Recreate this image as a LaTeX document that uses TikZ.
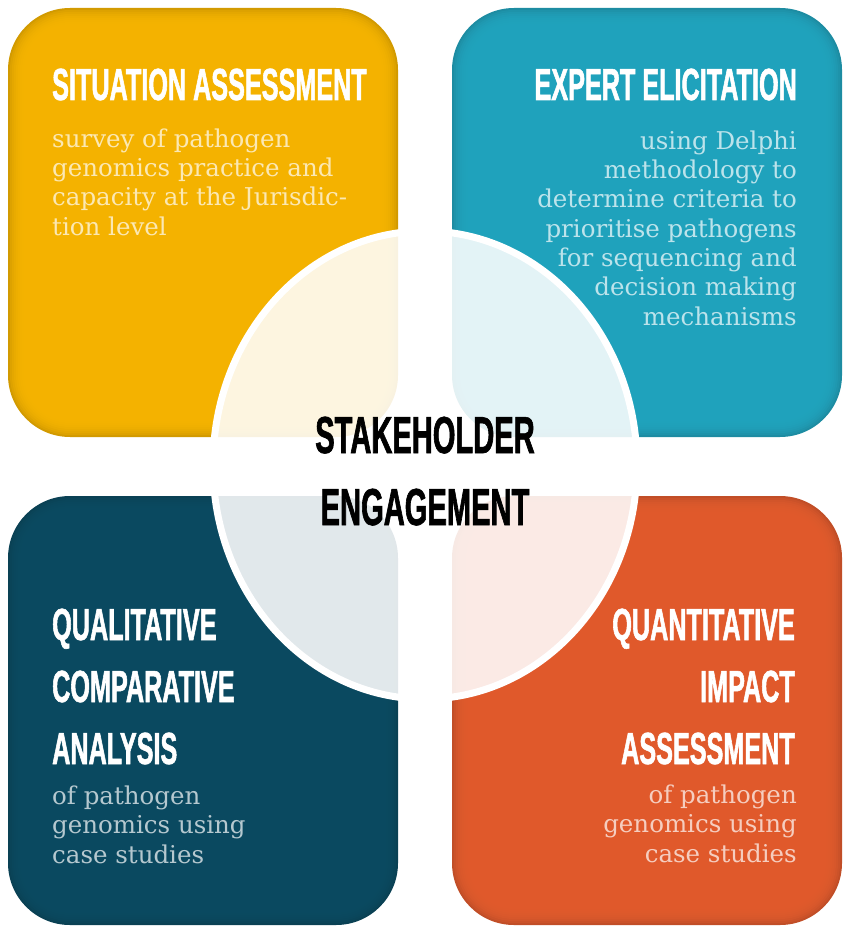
\documentclass[tikz,border=0pt]{standalone}
\usepackage{fontspec}
\newfontfamily\headfont[FakeStretch=0.56,FakeBold=1.2]{Liberation Sans}
\newfontfamily\bodyfont{DejaVu Serif}
\definecolor{sitcol}{HTML}{F7B500}
\definecolor{expcol}{HTML}{22A5BF}
\definecolor{qualcol}{HTML}{0C4C63}
\definecolor{quantcol}{HTML}{E35C2E}
\begin{document}
\begin{tikzpicture}[x=1pt,y=-1pt]
  \tikzstyle{head}=[inner sep=0pt,text=white,font=\headfont\bfseries\fontsize{45}{62}\selectfont]
  \tikzstyle{body}=[inner sep=0pt,text=white,text opacity=0.7,font=\bodyfont\fontsize{24.5}{29.3}\selectfont]
  \useasboundingbox (0,0) rectangle (851,936);
  % four tiles, a bit darker at the rim
  \foreach \name/\xa/\ya/\col in {sit/8/8/sitcol, exp/452/8/expcol, qual/8/496/qualcol, quant/452/496/quantcol}
  {
    \fill[\col!85!black,rounded corners=62pt] (\xa,\ya) rectangle ++(390,429);
    \foreach \k in {1,...,9}
      \fill[\col,opacity=0.3,rounded corners={(62-2*\k)*1pt}] (\xa+2*\k,\ya+2*\k) rectangle ++(390-4*\k,429-4*\k);
  }
  % centre disc
  \fill[white,opacity=0.88] (425,465) ellipse [x radius=212, y radius=234];
  \draw[white,line width=7pt] (425,465) ellipse [x radius=212, y radius=234];

  % multi-line nodes sit on their last baseline
  \node[head,anchor=base west] (sit-head) at (52,100) {SITUATION ASSESSMENT};
  \node[body,anchor=base west,align=left] (sit-text) at (52,235)
    {survey of pathogen\\genomics practice and\\capacity at the Jurisdic-\\tion level};

  \node[head,anchor=base east] (exp-head) at (797,100) {EXPERT ELICITATION};
  \node[body,anchor=base east,align=right] (exp-text) at (797,325)
    {using Delphi\\methodology to\\determine criteria to\\prioritise pathogens\\for sequencing and\\decision making\\mechanisms};

  \node[head,anchor=base west,align=left] (qual-head) at (52,764) {QUALITATIVE\\COMPARATIVE\\ANALYSIS};
  \node[body,anchor=base west,align=left] (qual-text) at (52,863) {of pathogen\\genomics using\\case studies};

  \node[head,anchor=base east,align=right] (quant-head) at (795,764) {QUANTITATIVE\\IMPACT\\ASSESSMENT};
  \node[body,anchor=base east,align=right] (quant-text) at (797,862) {of pathogen\\genomics using\\case studies};

  \node[head,text=black,font=\headfont\bfseries\fontsize{52}{72}\selectfont,align=center,anchor=base] (engage) at (425,525)
    {STAKEHOLDER\\ENGAGEMENT};
\end{tikzpicture}
\end{document}
